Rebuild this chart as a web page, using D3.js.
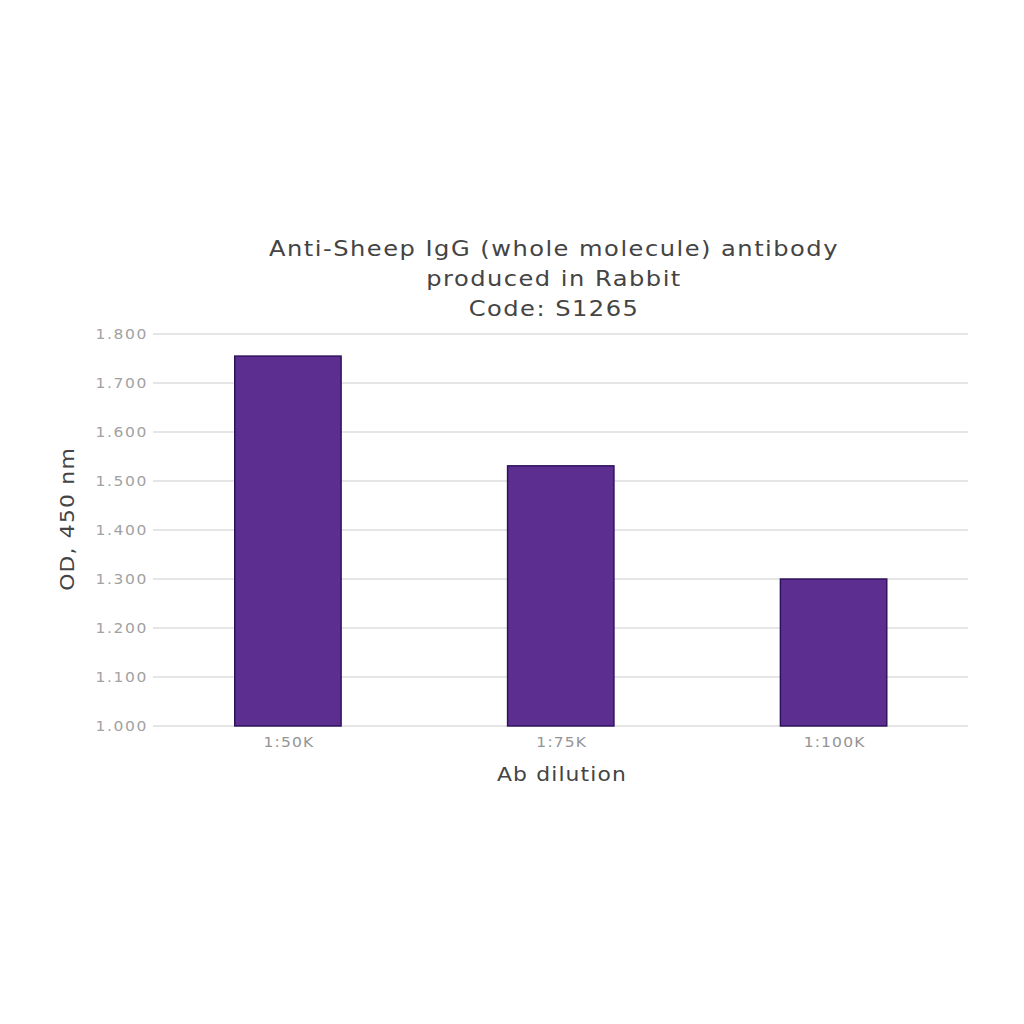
<!DOCTYPE html>
<html><head><meta charset="utf-8">
<script src="https://cdn.jsdelivr.net/npm/d3@7"></script>
<style>body{margin:0;background:#fff}</style>
</head><body>
<svg id="c" width="1024" height="1024"></svg>
<script>
const categories = ["1:50K", "1:75K", "1:100K"];
const values = [1.755, 1.531, 1.300];
const yTicks = [1.0, 1.1, 1.2, 1.3, 1.4, 1.5, 1.6, 1.7, 1.8];
const titleLines = ["Anti-Sheep IgG (whole molecule) antibody", "produced in Rabbit", "Code: S1265"];
const xTitle = "Ab dilution";
const yTitle = "OD, 450 nm";

const svg = d3.select("#c");
const font = "'DejaVu Sans', Verdana, sans-serif";
const plotL = 153, plotR = 968, plotT = 334, plotB = 726;
const sx = 1.15;

const x = d3.scaleBand().domain(categories).range([151.5, 970]).paddingInner(0.61).paddingOuter(0.305);
const y = d3.scaleLinear().domain([1.0, 1.8]).range([plotB, plotT]);

// grid
svg.append("g").selectAll("line").data(yTicks).join("line")
  .attr("x1", plotL).attr("x2", plotR)
  .attr("y1", d => y(d)).attr("y2", d => y(d))
  .attr("stroke", "#dcdcdc").attr("stroke-width", 1.5);

// y tick labels
svg.append("g").selectAll("text").data(yTicks).join("text")
  .attr("transform", d => `translate(${plotL - 5},${y(d)}) scale(${sx},1)`)
  .attr("dy", "0.35em")
  .attr("text-anchor", "end").attr("font-family", font).attr("font-size", 13.5)
  .attr("letter-spacing", 1.4)
  .attr("fill", "#a2a2a2").text(d => d3.format(".3f")(d));

// bars
svg.append("g").selectAll("rect").data(values).join("rect")
  .attr("x", (d, i) => x(categories[i])).attr("width", x.bandwidth())
  .attr("y", d => y(d)).attr("height", d => y(1.0) - y(d))
  .attr("fill", "#5b2e8f").attr("stroke", "#2c0f5a").attr("stroke-width", 1.4);

// x axis labels
svg.append("g").selectAll("text").data(categories).join("text")
  .attr("transform", d => `translate(${x(d) + x.bandwidth() / 2 + 1},${plotB + 21}) scale(${sx},1)`)
  .attr("text-anchor", "middle").attr("font-family", font).attr("font-size", 13.5)
  .attr("letter-spacing", 1.0)
  .attr("fill", "#949494").text(d => d);

// titles
svg.append("g").selectAll("text").data(titleLines).join("text")
  .attr("transform", (d, i) => `translate(554,${256 + i * 30}) scale(${sx},1)`)
  .attr("text-anchor", "middle").attr("font-family", font).attr("font-size", 21)
  .attr("letter-spacing", 1.3)
  .attr("fill", "#444").text(d => d);

svg.append("text").attr("transform", `translate(562,781) scale(${sx},1)`).attr("text-anchor", "middle")
  .attr("font-family", font).attr("font-size", 19).attr("letter-spacing", 1.0)
  .attr("fill", "#444").text(xTitle);

svg.append("text").attr("transform", `translate(74,519) rotate(-90) scale(${sx},1)`).attr("text-anchor", "middle")
  .attr("font-family", font).attr("font-size", 19).attr("letter-spacing", 1.05)
  .attr("fill", "#444").text(yTitle);
</script>
</body></html>
